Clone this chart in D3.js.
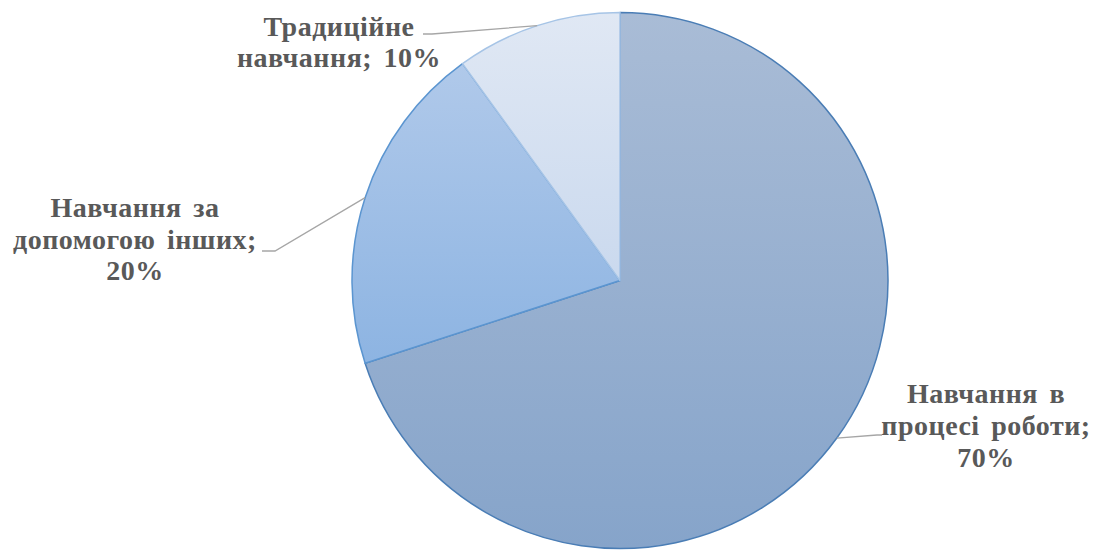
<!DOCTYPE html>
<meta charset="utf-8">
<body style="margin:0;background:#fff">
<svg width="1097" height="550"></svg>
<script src="https://cdnjs.cloudflare.com/ajax/libs/d3/7.8.5/d3.min.js"></script>
<script>

var categories = ["Навчання в процесі роботи", "Навчання за допомогою інших", "Традиційне навчання"];
var values = [70, 20, 10];
var labelLines = [
  ["Навчання в", "процесі роботи;", "70%"],
  ["Навчання за", "допомогою інших;", "20%"],
  ["Традиційне", "навчання; 10%"]
];

var colorTop = ["#a9bcd6", "#b0c9ea", "#e0e8f4"];
var colorBottom = ["#86a4ca", "#8db4e2", "#cad9ee"];
var strokes = ["#4a7db5", "#5b95d0", "#a6c4e6"];

// label placement: center x, first baseline y, line step, elbow point
var labelPos = [
  {x: 986, y: 403, dy: 32, ex: 877, ey: 435, lx: 882},
  {x: 135, y: 217, dy: 31.5, ex: 275, ey: 251, lx: 262},
  {x: 339, y: 36, dy: 31, ex: 432, ey: 34, lx: 423}
];

var svg = d3.select("svg");
var cx = 620, cy = 280.5, r = 268;
var g = svg.append("g").attr("transform", "translate(" + cx + "," + cy + ")");

var defs = svg.append("defs");
values.forEach(function(v, i) {
  var lg = defs.append("linearGradient").attr("id", "grad" + i)
    .attr("x1", 0).attr("y1", 0).attr("x2", 0).attr("y2", 1);
  lg.append("stop").attr("offset", "0%").attr("stop-color", colorTop[i]);
  lg.append("stop").attr("offset", "100%").attr("stop-color", colorBottom[i]);
});

var pie = d3.pie().sort(null).value(function(d) { return d; });
var arcs = pie(values);
var arc = d3.arc().innerRadius(0).outerRadius(r);

g.selectAll(".slice").data(arcs).enter().append("path")
  .attr("class", "slice")
  .attr("d", arc)
  .attr("fill", function(d, i) { return "url(#grad" + i + ")"; })
  .attr("stroke", function(d, i) { return strokes[i]; })
  .attr("stroke-width", 1.5)
  .attr("stroke-linejoin", "round");

// leader lines
arcs.forEach(function(d, i) {
  var a = (d.startAngle + d.endAngle) / 2;
  var px = cx + Math.sin(a) * r, py = cy - Math.cos(a) * r;
  var p = labelPos[i];
  svg.append("polyline")
    .attr("points", [[px, py], [p.ex, p.ey], [p.lx, p.ey]].map(function(q) { return q.join(","); }).join(" "))
    .attr("fill", "none")
    .attr("stroke", "#a6a6a6")
    .attr("stroke-width", 1.3);
});

labelLines.forEach(function(lines, i) {
  var p = labelPos[i];
  var t = svg.append("text")
    .attr("text-anchor", "middle")
    .style("font-family", "\"Liberation Serif\"")
    .style("font-weight", "bold")
    .style("font-size", "28px")
    .style("letter-spacing", "0.5px")
    .style("word-spacing", "4px")
    .attr("fill", "#595959");
  lines.forEach(function(s, j) {
    t.append("tspan").attr("x", p.x).attr("y", p.y + j * p.dy).text(s);
  });
});

</script>
</body>
